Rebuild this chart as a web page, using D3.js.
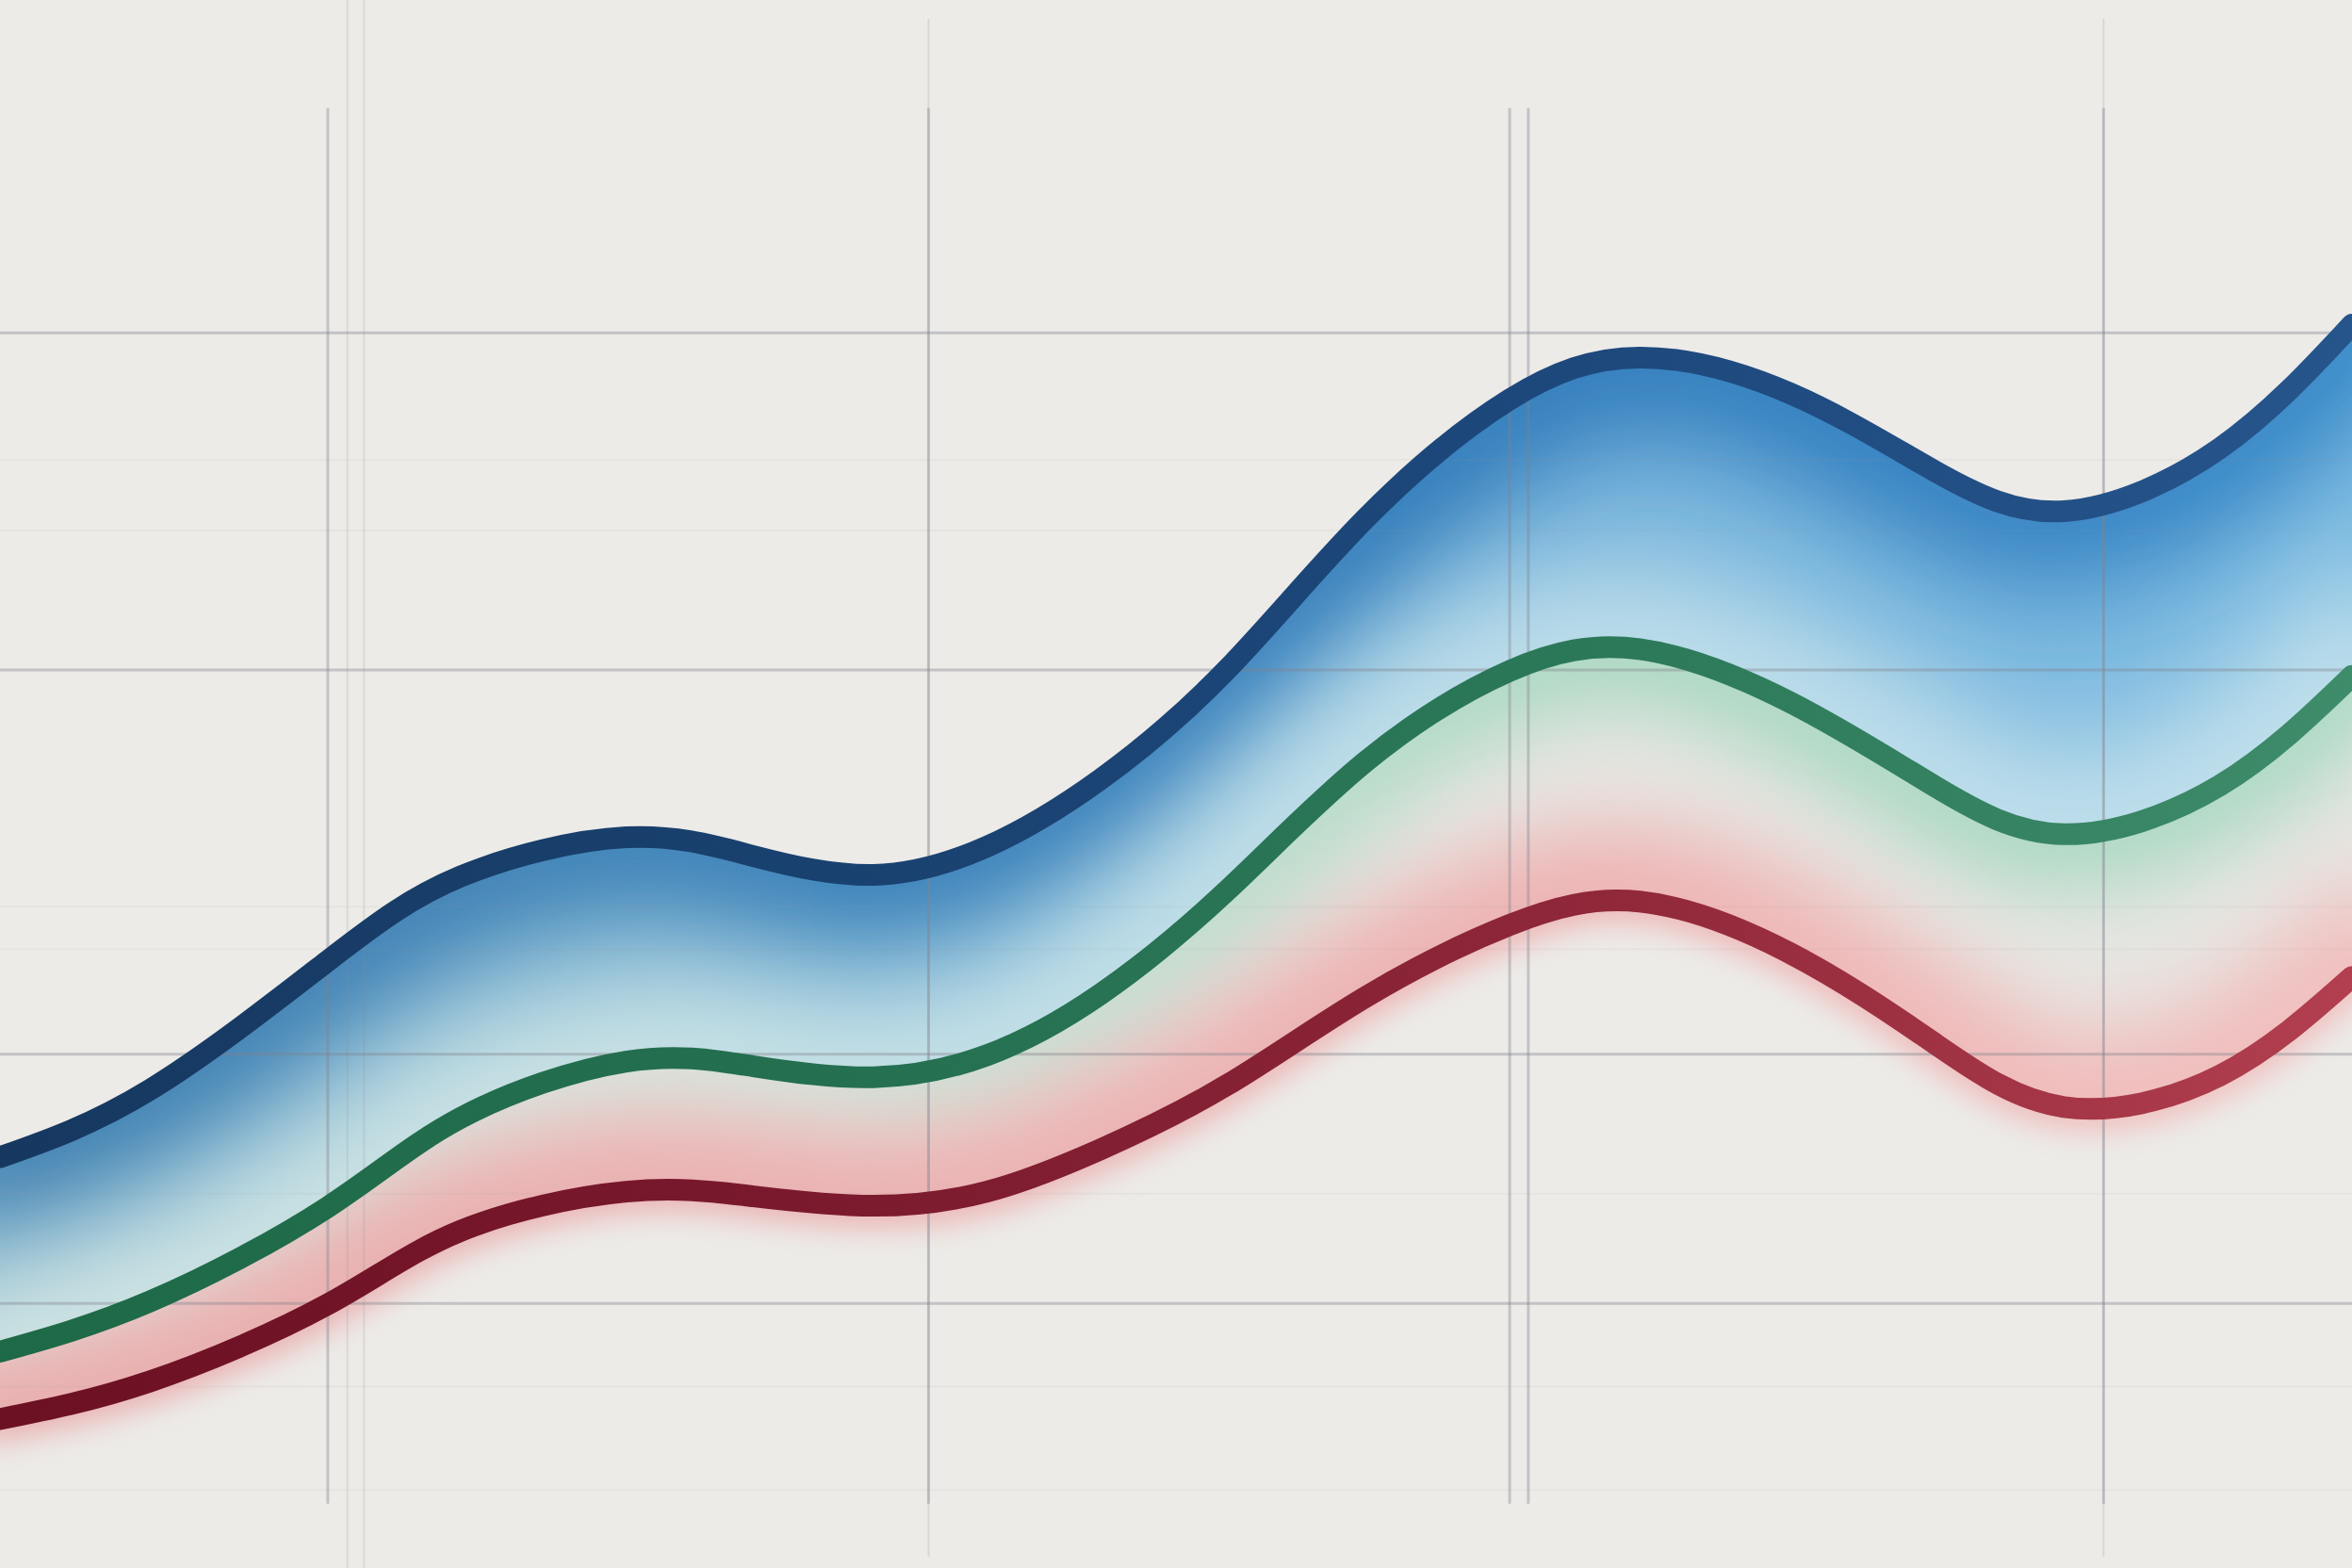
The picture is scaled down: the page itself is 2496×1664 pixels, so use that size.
<!DOCTYPE html>
<html>
<head>
<meta charset="utf-8">
<script src="https://cdn.jsdelivr.net/npm/d3@7/dist/d3.min.js"></script>
<style>
    html, body { margin: 0; padding: 0; background: #ecebe8; }
    svg { display: block; }
</style>
</head>
<body>
<svg id="canvas"></svg>
<script>
let width = 2496
let height = 1664

// x positions of the readings (periods)
let periods = [0, 1.53, 3.34, 4.70, 6.39, 7.69, 8.91, 10.07, 11.23, 12.52, 13.93, 15.40, 16.73,
    18.27, 19.73, 21.06, 22.65, 24]

// three series
let blueValues = [26.2, 30.5, 38.7, 44.1, 46.6, 45.4, 44.2, 46.0, 50.3, 57.3, 66.9, 74.5, 77.2,
    74.9, 70.0, 67.4, 71.4, 79.3]
let greenValues = [13.8, 17.0, 23.0, 28.7, 32.3, 32.0, 31.3, 32.7, 36.6, 43.2, 51.4, 57.2, 58.6,
    55.2, 49.9, 46.8, 49.9, 56.9]
let redValues = [9.5, 11.9, 16.8, 21.5, 24.0, 23.7, 23.1, 24.0, 26.7, 30.8, 36.4, 41.0, 42.5,
    39.2, 33.5, 29.4, 31.4, 37.7]

// grid positions
let gridMajorY = [78.8, 57.3, 32.8, 16.9]
let gridMinorY = [70.7, 66.2, 42.2, 39.5, 23.9, 11.6, 5.0]
let gridMajorX = [3.34, 9.47, 15.40, 15.59, 21.46]
let gridFaintX = [3.54, 3.71]
let gridTailX = [9.47, 21.46]

let x = d3.scaleLinear().domain([0, 24]).range([0, width])
let y = d3.scaleLinear().domain([0, 100]).range([height, 0])

let canvas = d3.select("#canvas")
    .attr("width", width)
    .attr("height", height)

let defs = canvas.append("defs")

let addGradient = (id, stops) => {
    let g = defs.append("linearGradient")
        .attr("id", id)
        .attr("gradientUnits", "userSpaceOnUse")
        .attr("x1", 0).attr("y1", 0)
        .attr("x2", width).attr("y2", 0)
    stops.forEach((c, i) => {
        g.append("stop")
            .attr("offset", i / (stops.length - 1))
            .attr("stop-color", c)
    })
}

addGradient("blueStroke", ["#163860", "#19416f", "#1d487c", "#26558c"])
addGradient("greenStroke", ["#1e6946", "#246f50", "#2b7858", "#3e8c6a"])
addGradient("redStroke", ["#6c1024", "#7a192d", "#8e2739", "#b23f4f"])
addGradient("blueGlow", ["#3f7fb0", "#3a80b8", "#2d79ba", "#3385c6"])
addGradient("blueMid", ["#84b6cf", "#80b6d4", "#78b4dc", "#80bde2"])
addGradient("cyanGlow", ["#d2e5e3", "#cae3e6", "#c0dfea", "#c3e1ec"])
addGradient("mintGlow", ["#e0e5e0", "#d4e5dc", "#a9d8c1", "#abd9c4"])
addGradient("pinkGlow", ["#e9aeae", "#ebb1b1", "#eeb4b4", "#f1c0bf"])

let addBlur = (id, sd) => {
    defs.append("filter")
        .attr("id", id)
        .attr("filterUnits", "userSpaceOnUse")
        .attr("x", -300).attr("y", -300)
        .attr("width", width + 600).attr("height", height + 600)
        .append("feGaussianBlur")
        .attr("stdDeviation", sd)
}
addBlur("blurBig", 55)
addBlur("blurMid", 42)
addBlur("blurSmall", 16)

let curve = d3.curveNatural

let line = d3.line()
    .x((d, i) => x(periods[i]))
    .y((d) => y(d))
    .curve(curve)

let band = (upper, lower) => d3.area()
    .x((d, i) => x(periods[i]))
    .y1((d, i) => y(upper[i]))
    .y0((d, i) => lower ? y(lower[i]) : height + 50)
    .curve(curve)(periods)

defs.append("clipPath").attr("id", "clipBlue")
    .append("path").attr("d", band(blueValues, greenValues))
defs.append("clipPath").attr("id", "clipGreen")
    .append("path").attr("d", band(greenValues, redValues))
defs.append("clipPath").attr("id", "clipRed")
    .append("path").attr("d", band(redValues, null))

// background
canvas.append("rect")
    .attr("width", width)
    .attr("height", height)
    .attr("fill", "#ecebe8")

let glow = (g, values, stroke, w, filter) => {
    g.append("path")
        .attr("d", line(values))
        .attr("fill", "none")
        .attr("stroke", stroke)
        .attr("stroke-width", w)
        .attr("stroke-linecap", "square")
        .attr("filter", filter)
}

// band between blue and green
let blueBand = canvas.append("g").attr("clip-path", "url(#clipBlue)")
blueBand.append("rect")
    .attr("width", width).attr("height", height)
    .attr("fill", "url(#blueMid)")
glow(blueBand, blueValues, "url(#blueGlow)", 150, "url(#blurBig)")
glow(blueBand, greenValues, "url(#cyanGlow)", 170, "url(#blurBig)")

// band between green and red
let greenBand = canvas.append("g").attr("clip-path", "url(#clipGreen)")
greenBand.append("rect")
    .attr("width", width).attr("height", height)
    .attr("fill", "#e7e6e2")
glow(greenBand, greenValues, "url(#mintGlow)", 120, "url(#blurMid)")
glow(greenBand, redValues, "url(#pinkGlow)", 160, "url(#blurMid)")

// faint glow under the red line
let redBand = canvas.append("g").attr("clip-path", "url(#clipRed)")
glow(redBand, redValues, "url(#pinkGlow)", 45, "url(#blurSmall)")

// grid
let grid = canvas.append("g").attr("class", "grid")

let styleGrid = (g, color, w) => {
    g.select(".domain").remove()
    g.selectAll(".tick line")
        .attr("stroke", color)
        .attr("stroke-width", w)
}

grid.append("g")
    .call(d3.axisLeft(y).tickValues(gridMinorY).tickSize(-width).tickFormat(""))
    .call(styleGrid, "rgba(150,150,150,0.08)", 2)

grid.append("g")
    .call(d3.axisLeft(y).tickValues(gridMajorY).tickSize(-width).tickFormat(""))
    .call(styleGrid, "rgba(130,130,140,0.38)", 3)

grid.append("g")
    .attr("transform", "translate(0," + height + ")")
    .call(d3.axisBottom(x).tickValues(gridFaintX).tickSize(0).tickFormat(""))
    .call((g) => g.selectAll(".tick line").attr("y2", -height))
    .call(styleGrid, "rgba(140,140,150,0.18)", 2)

grid.append("g")
    .attr("transform", "translate(0," + y(0.7) + ")")
    .call(d3.axisBottom(x).tickValues(gridTailX).tickSize(0).tickFormat(""))
    .call((g) => g.selectAll(".tick line").attr("y2", y(98.8) - y(0.7)))
    .call(styleGrid, "rgba(140,140,150,0.2)", 2)

grid.append("g")
    .attr("transform", "translate(0," + y(4.1) + ")")
    .call(d3.axisBottom(x).tickValues(gridMajorX).tickSize(0).tickFormat(""))
    .call((g) => g.selectAll(".tick line").attr("y2", y(93.1) - y(4.1)))
    .call(styleGrid, "rgba(130,130,140,0.38)", 3)

// series lines
let series = [
    { name: "blue", values: blueValues, stroke: "url(#blueStroke)" },
    { name: "green", values: greenValues, stroke: "url(#greenStroke)" },
    { name: "red", values: redValues, stroke: "url(#redStroke)" }
]

canvas.append("g")
    .selectAll("path")
    .data(series)
    .enter()
    .append("path")
    .attr("class", (s) => "line " + s.name)
    .attr("d", (s) => line(s.values))
    .attr("fill", "none")
    .attr("stroke", (s) => s.stroke)
    .attr("stroke-width", 23)
    .attr("stroke-linecap", "round")
</script>
</body>
</html>
